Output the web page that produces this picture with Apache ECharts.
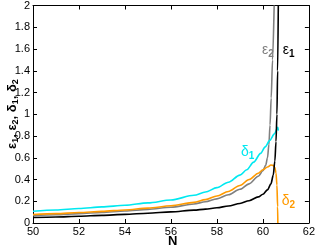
<!DOCTYPE html>
<html><head><meta charset="utf-8">
<script src="https://cdn.jsdelivr.net/npm/echarts@6/dist/echarts.min.js"></script>
<style>html,body{margin:0;padding:0;background:#fff}#c{width:318px;height:247px}</style>
</head><body><div id="c"></div>
<script>
const xTicks = [50, 52, 54, 56, 58, 60, 62];
const yTicks = [0, 0.2, 0.4, 0.6, 0.8, 1, 1.2, 1.4, 1.6, 1.8, 2];

const eps1N = [50, 51, 52, 53, 54, 55, 56, 57, 57.5, 58, 58.5, 59, 59.4, 59.8, 60, 60.2, 60.35, 60.45, 60.52, 60.57, 60.61, 60.64, 60.67];
const eps1V = [0.05, 0.055, 0.062, 0.07, 0.079, 0.09, 0.102, 0.118, 0.128, 0.14, 0.157, 0.18, 0.205, 0.24, 0.265, 0.305, 0.36, 0.44, 0.57, 0.75, 1.0, 1.4, 2.0];

const eps2N = [50, 51, 52, 53, 54, 55, 56, 57, 57.5, 58, 58.5, 59, 59.4, 59.8, 60, 60.12, 60.2, 60.26, 60.31, 60.36, 60.42, 60.49];
const eps2V = [0.068, 0.076, 0.086, 0.097, 0.11, 0.125, 0.145, 0.175, 0.195, 0.222, 0.26, 0.31, 0.36, 0.43, 0.48, 0.53, 0.6, 0.72, 0.9, 1.15, 1.5, 2.0];

const del1N = [50, 51, 52, 53, 54, 55, 56, 57, 57.5, 58, 58.5, 59, 59.3, 59.6, 59.9, 60.1, 60.3, 60.5, 60.65, 60.67];
const del1V = [0.108, 0.12, 0.133, 0.148, 0.163, 0.185, 0.212, 0.255, 0.285, 0.325, 0.375, 0.44, 0.49, 0.56, 0.64, 0.7, 0.76, 0.82, 0.88, 0.85];

const del2N = [50, 51, 52, 53, 54, 55, 56, 57, 57.5, 58, 58.5, 59, 59.4, 59.8, 60, 60.2, 60.35, 60.45, 60.52, 60.57, 60.61, 60.64, 60.65];
const del2V = [0.078, 0.086, 0.096, 0.107, 0.12, 0.137, 0.158, 0.19, 0.215, 0.248, 0.29, 0.345, 0.4, 0.458, 0.49, 0.515, 0.533, 0.53, 0.51, 0.46, 0.35, 0.15, 0.0];

const zip = (a, b) => a.map((x, i) => [x, b[i]]);

const chart = echarts.init(document.getElementById('c'));
const font = 'Liberation Sans, Arial, sans-serif';
const baseAxis = {
  axisLine: {show: true, onZero: false, lineStyle: {color: '#000', width: 1}},
  axisTick: {show: true, inside: true, length: 4, lineStyle: {color: '#000'}},
  splitLine: {show: false}
};
const lineSeries = (data, color) => ({type: 'line', data: data, showSymbol: false, smooth: 0.3,
  smoothMonotone: 'x', lineStyle: {color: color, width: 1.6}, clip: true});
const option = {
  animation: false,
  grid: {left: 33, right: 7, top: 3, bottom: 24, containLabel: false},
  xAxis: [
    Object.assign({}, baseAxis, {type: 'value', min: 50, max: 62, interval: 2,
      axisLabel: {color: '#000', fontSize: 11, fontFamily: font, margin: 3}}),
    Object.assign({}, baseAxis, {type: 'value', position: 'top', min: 50, max: 62, interval: 2,
      axisLabel: {show: false}})
  ],
  yAxis: [
    Object.assign({}, baseAxis, {type: 'value', min: 0, max: 2, interval: 0.2,
      axisLabel: {color: '#000', fontSize: 11, fontFamily: font, margin: 3,
        formatter: v => String(Math.round(v * 10) / 10)}}),
    Object.assign({}, baseAxis, {type: 'value', position: 'right', min: 0, max: 2, interval: 0.2,
      axisLabel: {show: false}})
  ],
  series: [
    lineSeries(zip(eps2N, eps2V), '#808080'),
    lineSeries(zip(del2N, del2V), '#ff9a00'),
    lineSeries(zip(del1N, del1V), '#00e8f0'),
    lineSeries(zip(eps1N, eps1V), '#000')
  ]
};
chart.setOption(option);

function lbl(x, y, letter, sub, color) {
  const p = chart.convertToPixel({xAxisIndex: 0, yAxisIndex: 0}, [x, y]);
  return {type: 'text', x: p[0], y: p[1], style: {
    text: '{a|' + letter + '}{b|' + sub + '}', fill: color,
    rich: {a: {fontSize: 14, fontFamily: font, fill: color},
           b: {fontSize: 10, fontFamily: font, fontWeight: 'bold', fill: color, padding: [8, 0, 0, 0]}}
  }};
}
chart.setOption({graphic: [
  lbl(59.96, 1.67, 'ε', '2', '#808080'),
  lbl(60.86, 1.67, 'ε', '1', '#000'),
  lbl(59.05, 0.736, 'δ', '1', '#00e8f0'),
  lbl(60.82, 0.28, 'δ', '2', '#ff9a00'),
  {type: 'text', x: 168, y: 235, style: {text: 'N', font: 'bold 13px ' + font, fill: '#000'}},
  {type: 'text', x: 4, y: 149, rotation: Math.PI / 2, style: {
    text: '{a|ε}{s|1}{a|, ε}{s|2}{a|, δ}{s|1}{a|, δ}{s|2}',
    rich: {a: {fontSize: 13, fontWeight: 'bold', fontFamily: font, fill: '#000'},
           s: {fontSize: 9, fontWeight: 'bold', fontFamily: font, fill: '#000', padding: [7, 0, 0, 0]}}
  }}
]});
</script></body></html>
